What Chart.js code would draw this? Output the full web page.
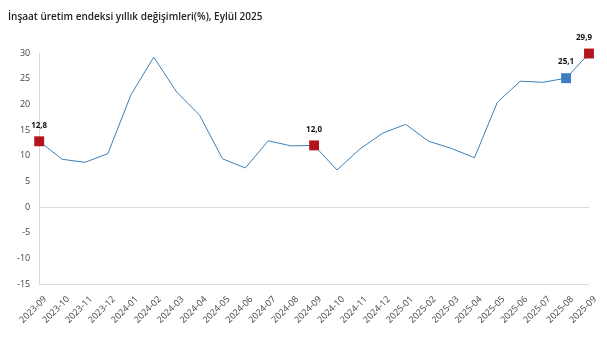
<!DOCTYPE html>
<html>
<head>
<meta charset="utf-8">
<script src="https://cdn.jsdelivr.net/npm/chart.js@4.4.1/dist/chart.umd.min.js"></script>
<style>
  body { margin: 0; background: #fff; }
  #wrap { width: 607px; height: 343px; position: relative; }
</style>
</head>
<body>
<div id="wrap"><canvas id="chart"></canvas></div>
<script>
const months = ['2023-09', '2023-10', '2023-11', '2023-12', '2024-01', '2024-02', '2024-03', '2024-04', '2024-05',
  '2024-06', '2024-07', '2024-08', '2024-09', '2024-10', '2024-11', '2024-12', '2025-01', '2025-02', '2025-03',
  '2025-04', '2025-05', '2025-06', '2025-07', '2025-08', '2025-09'];
const yearlyChange = [12.8, 9.3, 8.7, 10.4, 21.8, 29.2, 22.4, 17.9, 9.4, 7.6, 12.9, 11.9, 12.0, 7.2, 11.3, 14.4,
  16.1, 12.8, 11.4, 9.6, 20.4, 24.5, 24.3, 25.1, 29.9];
// which points get a square marker and a value label
const marked = {0: '#b3151d', 12: '#b3151d', 23: '#3b7fc0', 24: '#b3151d'};

const fontFamily = '"Open Sans", "DejaVu Sans", sans-serif';

// value labels above marked points
const markLabels = {
  id: 'markLabels',
  afterDatasetsDraw(chart) {
    const ctx = chart.ctx;
    const meta = chart.getDatasetMeta(0);
    ctx.save();
    ctx.font = 'bold 8px ' + fontFamily;
    ctx.fillStyle = '#111';
    ctx.textAlign = 'center';
    ctx.textBaseline = 'bottom';
    Object.keys(marked).forEach(i => {
      const p = meta.data[i];
      const txt = yearlyChange[i].toFixed(1).replace('.', ',');
      const dx = +i === 24 ? -5 : 0;
      ctx.fillText(txt, p.x + dx, p.y - 12);
    });
    ctx.restore();
  }
};

var ctx = document.getElementById('chart').getContext('2d');

const chart = new Chart(ctx, {
  type: 'line',
  data: {
    labels: months,
    datasets: [{
      data: yearlyChange,
      borderColor: '#3f7fb5',
      borderWidth: 1,
      tension: 0,
      pointStyle: 'rect',
      pointRadius: yearlyChange.map((v, i) => marked[i] ? 7 : 0),
      pointHoverRadius: 0,
      pointBackgroundColor: yearlyChange.map((v, i) => marked[i] || '#3f7fb5'),
      pointBorderColor: yearlyChange.map((v, i) => marked[i] || '#3f7fb5'),
      pointBorderWidth: 0,
      clip: false
    }]
  },
  options: {
    responsive: true,
    maintainAspectRatio: false,
    animation: false,
    layout: {
      padding: {left: 8, right: 18, top: 0, bottom: 0}
    },
    plugins: {
      legend: {display: false},
      tooltip: {enabled: false},
      title: {
        display: true,
        text: 'İnşaat üretim endeksi yıllık değişimleri(%), Eylül 2025',
        align: 'start',
        color: '#222',
        font: {size: 10, weight: '600', family: fontFamily},
        padding: {top: 11, bottom: 30}
      }
    },
    scales: {
      x: {
        grid: {display: false},
        border: {display: false},
        afterFit: s => { s.height = 59; },
        ticks: {
          color: '#444',
          font: {size: 9, family: fontFamily},
          maxRotation: 45,
          minRotation: 45,
          autoSkip: false,
          labelOffset: 6,
          padding: 2
        }
      },
      y: {
        min: -15,
        max: 30,
        ticks: {
          stepSize: 5,
          color: '#444',
          font: {size: 9, family: fontFamily},
          padding: 9
        },
        border: {display: true, color: '#d9d9d9'},
        grid: {
          drawTicks: false,
          color: c => (c.tick.value === 0 || c.tick.value === -15) ? '#d9d9d9' : 'rgba(0,0,0,0)'
        }
      }
    }
  },
  plugins: [markLabels]
});
</script>
</body>
</html>
